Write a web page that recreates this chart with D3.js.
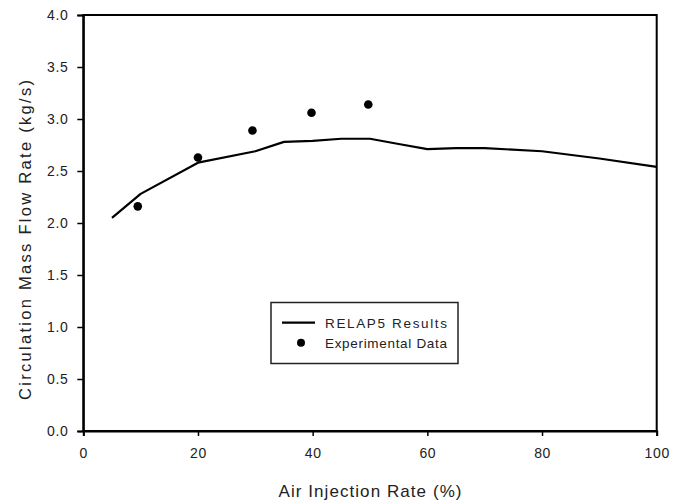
<!DOCTYPE html>
<html>
<head>
<meta charset="utf-8">
<script src="https://cdn.jsdelivr.net/npm/d3@7"></script>
<style>
  html, body { margin: 0; padding: 0; background: #fff; }
  svg { display: block; font-family: "Liberation Sans", Arial, sans-serif; }
</style>
</head>
<body>
<svg id="chart" width="684" height="502"></svg>
<script>
// ---- Data ----
const relapX = [5, 10, 20, 30, 35, 40, 45, 50, 55, 60, 65, 70, 80, 90, 100];
const relapY = [2.05, 2.28, 2.58, 2.69, 2.78, 2.79, 2.81, 2.81, 2.76, 2.71, 2.72, 2.72, 2.69, 2.62, 2.54];
const expX = [9.5, 20, 29.5, 39.8, 49.7];
const expY = [2.16, 2.63, 2.89, 3.06, 3.14];
const xTicks = [0, 20, 40, 60, 80, 100];
const yTicks = [0, 0.5, 1.0, 1.5, 2.0, 2.5, 3.0, 3.5, 4.0];
const xTitle = "Air Injection Rate (%)";
const yTitle = "Circulation Mass Flow Rate (kg/s)";
const legendLabels = ["RELAP5 Results", "Experimental Data"];

// ---- Layout ----
const W = 684, H = 502;
const margin = {left: 83.3, right: 27.3, top: 15, bottom: 71};
const svg = d3.select("#chart");
const x = d3.scaleLinear().domain([0, 100]).range([margin.left, W - margin.right]);
const y = d3.scaleLinear().domain([0, 4]).range([H - margin.bottom, margin.top]);
const textColor = "#222";

// Frame
svg.append("rect")
  .attr("x", x(0)).attr("y", y(4))
  .attr("width", x(100) - x(0)).attr("height", y(0) - y(4))
  .attr("fill", "none").attr("stroke", "#000").attr("stroke-width", 2);

// Axes
const xAxis = svg.append("g")
  .attr("transform", `translate(0,${y(0)})`)
  .call(d3.axisBottom(x).tickValues(xTicks).tickFormat(d3.format("d")).tickSize(5).tickPadding(12));
const yAxis = svg.append("g")
  .attr("transform", `translate(${x(0)},0)`)
  .call(d3.axisLeft(y).tickValues(yTicks).tickFormat(d3.format(".1f")).tickSize(6).tickPadding(9));

[xAxis, yAxis].forEach(g => {
  g.select(".domain").attr("stroke", "#000").attr("stroke-width", 2);
  g.selectAll(".tick line").attr("stroke", "#000").attr("stroke-width", 1.5);
  g.selectAll(".tick text")
    .attr("fill", textColor)
    .style("font-size", "14px")
    .style("letter-spacing", "0.6px")
    .style("font-family", "'Liberation Sans', Arial, sans-serif");
});

// Axis titles
svg.append("text")
  .attr("x", (x(0) + x(100)) / 2).attr("y", 496.5)
  .attr("text-anchor", "middle")
  .attr("fill", textColor)
  .style("font-size", "17px")
  .attr("textLength", 183).attr("lengthAdjust", "spacing")
  .text(xTitle);

svg.append("text")
  .attr("transform", "translate(31,240) rotate(-90)")
  .attr("text-anchor", "middle")
  .attr("fill", textColor)
  .style("font-size", "16.5px")
  .attr("textLength", 320).attr("lengthAdjust", "spacing")
  .text(yTitle);

// RELAP5 line
const lineData = relapX.map((d, i) => [d, relapY[i]]);
svg.append("path")
  .datum(lineData)
  .attr("fill", "none").attr("stroke", "#000").attr("stroke-width", 2.2)
  .attr("stroke-linejoin", "round")
  .attr("d", d3.line().x(d => x(d[0])).y(d => y(d[1])));

// Experimental points
const expData = expX.map((d, i) => [d, expY[i]]);
svg.append("g").selectAll("circle")
  .data(expData).join("circle")
  .attr("cx", d => x(d[0])).attr("cy", d => y(d[1]))
  .attr("r", 4.3).attr("fill", "#000");

// Legend
const lg = svg.append("g");
lg.append("rect")
  .attr("x", 271).attr("y", 302.5).attr("width", 187).attr("height", 61)
  .attr("fill", "#fff").attr("stroke", "#222").attr("stroke-width", 1.5);
lg.append("line")
  .attr("x1", 282).attr("x2", 315).attr("y1", 322.7).attr("y2", 322.7)
  .attr("stroke", "#000").attr("stroke-width", 2.2);
lg.append("circle").attr("cx", 301).attr("cy", 342.7).attr("r", 4).attr("fill", "#000");
lg.selectAll("text.lbl")
  .data(legendLabels).join("text")
  .attr("class", "lbl")
  .attr("x", 325).attr("y", (d, i) => 327.5 + i * 20.5)
  .attr("fill", textColor)
  .style("font-size", "13.5px")
  .attr("textLength", 122).attr("lengthAdjust", "spacing")
  .text(d => d);
</script>
</body>
</html>
